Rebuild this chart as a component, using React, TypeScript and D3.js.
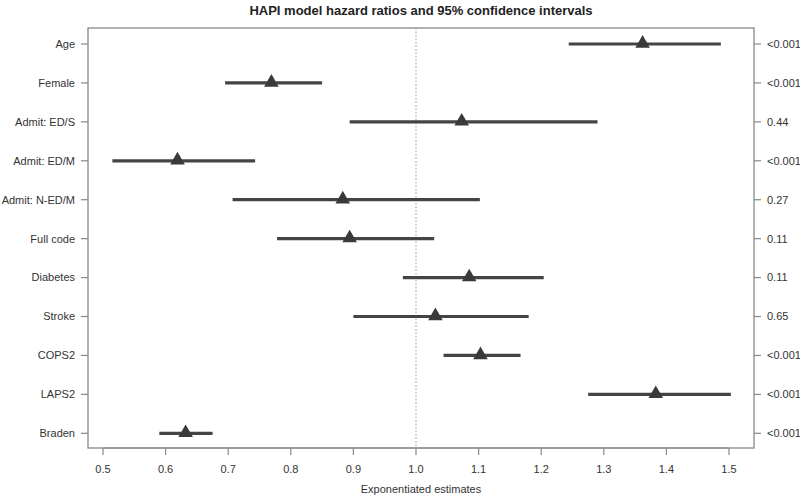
import React from "react";
import * as d3 from "d3";

const categories = ["Age", "Female", "Admit: ED/S", "Admit: ED/M", "Admit: N-ED/M", "Full code", "Diabetes", "Stroke", "COPS2", "LAPS2", "Braden"];
const estimates = [1.362, 0.769, 1.073, 0.619, 0.883, 0.894, 1.085, 1.031, 1.103, 1.383, 0.632];
const lower = [1.244, 0.695, 0.894, 0.515, 0.707, 0.778, 0.979, 0.900, 1.044, 1.275, 0.590];
const upper = [1.487, 0.850, 1.290, 0.743, 1.102, 1.029, 1.204, 1.180, 1.167, 1.503, 0.675];
const pValues = ["<0.001", "<0.001", "0.44", "<0.001", "0.27", "0.11", "0.11", "0.65", "<0.001", "<0.001", "<0.001"];
const xTicks = [0.5, 0.6, 0.7, 0.8, 0.9, 1.0, 1.1, 1.2, 1.3, 1.4, 1.5];
const title = "HAPI model hazard ratios and 95% confidence intervals";
const xLabel = "Exponentiated estimates";

const W = 800, H = 499;
const box = { left: 88, right: 754, top: 28, bottom: 448 };
const FONT = "'Liberation Sans', Arial, sans-serif";
const TXT = "#333";

export default function App() {
  const x = d3.scaleLinear().domain([0.5, 1.5]).range([103, 729]);
  const y = d3.scalePoint<string>().domain(categories).range([44, 433.3]);
  const tri = d3.symbol().type(d3.symbolTriangle).size(92)();

  return (
    <svg width={W} height={H} style={{ position: "absolute", left: 0, top: 0, background: "#fff" }} fontFamily={FONT}>
      <rect x={0} y={0} width={W} height={H} fill="#fff" />
      <text x={(box.left + box.right) / 2} y={15} textAnchor="middle" fontSize={13} fontWeight="bold" fill="#222">{title}</text>

      {/* reference line */}
      <line x1={x(1)} x2={x(1)} y1={box.top} y2={box.bottom} stroke="#999" strokeWidth={1} strokeDasharray="1.5,2" />

      {/* CIs */}
      {categories.map((c, i) => (
        <g key={c}>
          <line x1={x(lower[i])} x2={x(upper[i])} y1={y(c)} y2={y(c)} stroke="#444" strokeWidth={3.2} />
          <path d={tri!} transform={`translate(${x(estimates[i])},${y(c)! - 0.5})`} fill="#3a3a3a" />
        </g>
      ))}

      {/* box */}
      <rect x={box.left} y={box.top} width={box.right - box.left} height={box.bottom - box.top} fill="none" stroke="#888" strokeWidth={1.3} />

      {/* left axis */}
      {categories.map((c) => (
        <g key={"l" + c}>
          <line x1={box.left - 7} x2={box.left} y1={y(c)} y2={y(c)} stroke="#888" strokeWidth={1.2} />
          <text x={box.left - 13} y={y(c)} dy="0.35em" textAnchor="end" fontSize={11} fill={TXT}>{c}</text>
        </g>
      ))}

      {/* right axis */}
      {categories.map((c, i) => (
        <g key={"r" + c}>
          <line x1={box.right} x2={box.right + 7} y1={y(c)} y2={y(c)} stroke="#888" strokeWidth={1.2} />
          <text x={box.right + 13} y={y(c)} dy="0.35em" textAnchor="start" fontSize={11} fill={TXT}>{pValues[i]}</text>
        </g>
      ))}

      {/* bottom axis */}
      <line x1={x(0.5)} x2={x(1.5)} y1={box.bottom} y2={box.bottom} stroke="#888" strokeWidth={1.2} />
      {xTicks.map((t) => (
        <g key={"x" + t}>
          <line x1={x(t)} x2={x(t)} y1={box.bottom} y2={box.bottom + 7} stroke="#888" strokeWidth={1.2} />
          <text x={x(t)} y={469} dy="0.35em" textAnchor="middle" fontSize={11} fill={TXT}>{d3.format(".1f")(t)}</text>
        </g>
      ))}
      <text x={(box.left + box.right) / 2} y={489} dy="0.35em" textAnchor="middle" fontSize={11} fill={TXT}>{xLabel}</text>
    </svg>
  );
}
